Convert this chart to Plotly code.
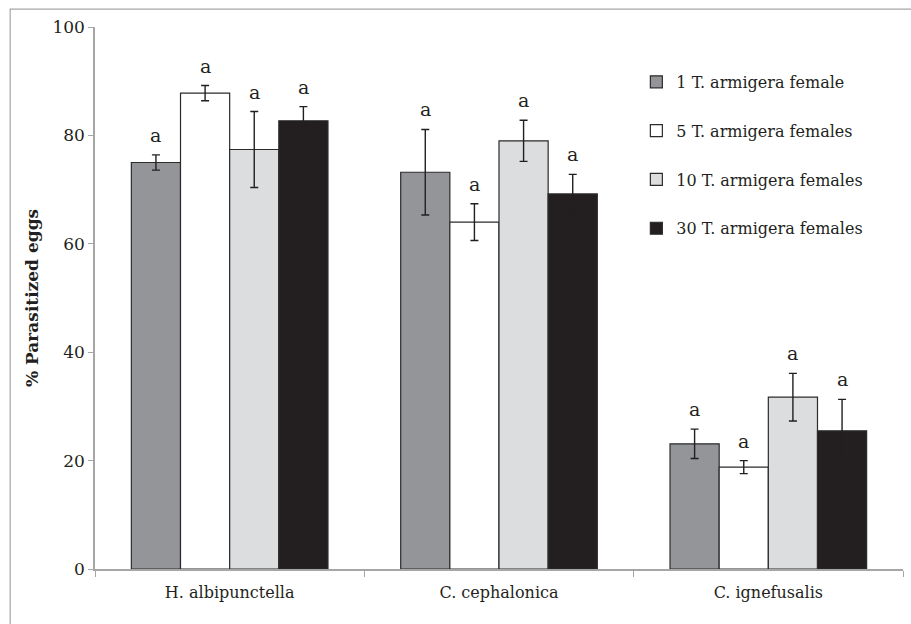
import plotly.graph_objects as go

categories = ["H. albipunctella", "C. cephalonica", "C. ignefusalis"]
series_names = ["1 T. armigera female", "5 T. armigera females",
                "10 T. armigera females", "30 T. armigera females"]
means = [
    [75.0, 73.2, 23.1],
    [87.8, 64.0, 18.8],
    [77.4, 79.0, 31.7],
    [82.7, 69.2, 25.5],
]
errors = [
    [1.4, 7.9, 2.7],
    [1.4, 3.4, 1.2],
    [7.0, 3.8, 4.4],
    [2.6, 3.6, 5.8],
]
letters = [
    ["a", "a", "a"],
    ["a", "a", "a"],
    ["a", "a", "a"],
    ["a", "a", "a"],
]
colors = ["#939598", "#ffffff", "#dcdddf", "#231f20"]

FONT = "DejaVu Serif"
bargap = 0.27
n = len(series_names)
bw = (1 - bargap) / n

fig = go.Figure()
for i, name in enumerate(series_names):
    fig.add_trace(go.Bar(
        x=categories, y=means[i], name=name,
        legendgroup=f"g{i}",
        marker=dict(color=colors[i], line=dict(color="#2b2b2b", width=1.2)),
        error_y=dict(type="data", array=errors[i], visible=True,
                     color="#231f20", thickness=1.4, width=4),
    ))

annotations = []
for i in range(n):
    off = -(1 - bargap) / 2 + bw * (i + 0.5)
    for j in range(len(categories)):
        annotations.append(dict(
            x=j + off, y=means[i][j] + errors[i][j], xref="x", yref="y",
            text=letters[i][j], showarrow=False, yanchor="middle", yshift=20,
            font=dict(family=FONT, size=19, color="#231f20"),
        ))

fig.update_layout(
    width=911, height=624,
    margin=dict(l=95, r=8, t=27, b=55, autoexpand=False),
    paper_bgcolor="white", plot_bgcolor="white",
    barmode="group", bargap=bargap, bargroupgap=0,
    font=dict(family=FONT, size=16, color="#231f20"),
    showlegend=True,
    legend=dict(x=0.67, y=0.93, xanchor="left", yanchor="top",
                tracegroupgap=25, font=dict(family=FONT, size=16, color="#231f20"),
                bgcolor="rgba(0,0,0,0)"),
    annotations=annotations,
    shapes=[dict(type="rect", xref="paper", yref="paper",
                 x0=-0.105, x1=1.02, y0=-0.12, y1=1.033,
                 line=dict(color="#a6a6a6", width=1.2), layer="below")],
)
fig.update_xaxes(
    type="category", showline=True, linecolor="#a6a6a6", linewidth=1.5,
    ticks="outside", tickson="boundaries", ticklen=6, tickcolor="#a6a6a6",
    ticklabelstandoff=8,
    showgrid=False, tickfont=dict(family=FONT, size=16, color="#231f20"),
)
fig.update_yaxes(
    range=[0, 100], tickvals=[0, 20, 40, 60, 80, 100],
    showline=True, linecolor="#a6a6a6", linewidth=1.5,
    ticks="outside", ticklen=5, tickcolor="#a6a6a6",
    showgrid=False, zeroline=False,
    tickfont=dict(family=FONT, size=17, color="#231f20"),
    title=dict(text="<b>% Parasitized eggs</b>", standoff=9,
               font=dict(family=FONT, size=17, color="#231f20")),
)

fig.write_html("out.html")
